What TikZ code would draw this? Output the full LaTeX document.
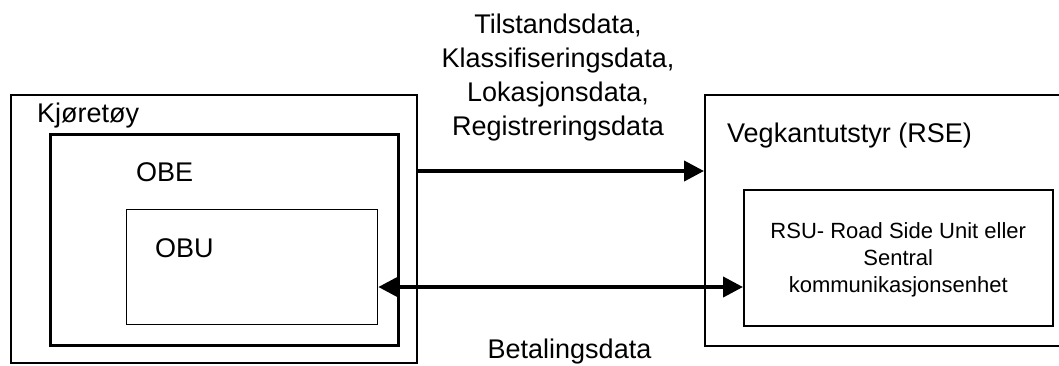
\documentclass[tikz,border=0pt]{standalone}
\usepackage{fontspec}
\setmainfont{Liberation Sans}
\usetikzlibrary{arrows.meta}
\begin{document}
\begin{tikzpicture}[x=1pt,y=-1pt,
  box/.style={draw,rectangle,inner sep=0pt,anchor=north west},
  big/.style={inner sep=0pt,font=\fontsize{27}{34}\selectfont},
  small/.style={inner sep=0pt,align=center,font=\fontsize{22}{27}\selectfont},
  flow/.style={line width=4pt,-{Triangle[length=20pt,width=20pt]}},
  dflow/.style={line width=4pt,{Triangle[length=20pt,width=20pt]}-{Triangle[length=20pt,width=20pt]}}]
\useasboundingbox (0,0) rectangle (1059,365);

% vehicle side
\node[box,line width=2pt,minimum width=406pt,minimum height=268pt] (kj) at (10,94) {};
\node[box,line width=3pt,minimum width=348pt,minimum height=211pt] (obe) at (49,133) {};
\node[box,line width=1.3pt,minimum width=251pt,minimum height=115pt] (obu) at (126,209) {};
\node[big,anchor=base west] (kjlbl) at (37,122) {Kjøretøy};
\node[big,anchor=base west] (obelbl) at (136,181) {OBE};
\node[big,anchor=base west] (obulbl) at (155,257) {OBU};

% roadside equipment
\node[box,line width=1.5pt,minimum width=380pt,minimum height=251pt] (rse) at (704,94) {};
\node[box,line width=1.5pt,minimum width=309pt,minimum height=136pt] (rsu) at (743,189) {};
\node[big,anchor=base west] (rselbl) at (727,142) {Vegkantutstyr (RSE)};
\node[small,anchor=north] (rsulbl) at ([yshift=-33pt]rsu.north)
  {RSU- Road Side Unit eller\\Sentral\\kommunikasjonsenhet};

% data flows
\coordinate (toprow) at (0,171);
\coordinate (botrow) at (0,287);
\draw[flow] (kj.east |- toprow) -- (rse.west |- toprow);
\draw[dflow] (obu.east |- botrow) -- (rsu.west |- botrow);

\node[big,align=center,anchor=north] (uplbl) at (558,13.7)
  {Tilstandsdata,\\Klassifiseringsdata,\\Lokasjonsdata,\\Registreringsdata};
\node[big,anchor=base] (downlbl) at (569.5,358.5) {Betalingsdata};
\end{tikzpicture}
\end{document}
